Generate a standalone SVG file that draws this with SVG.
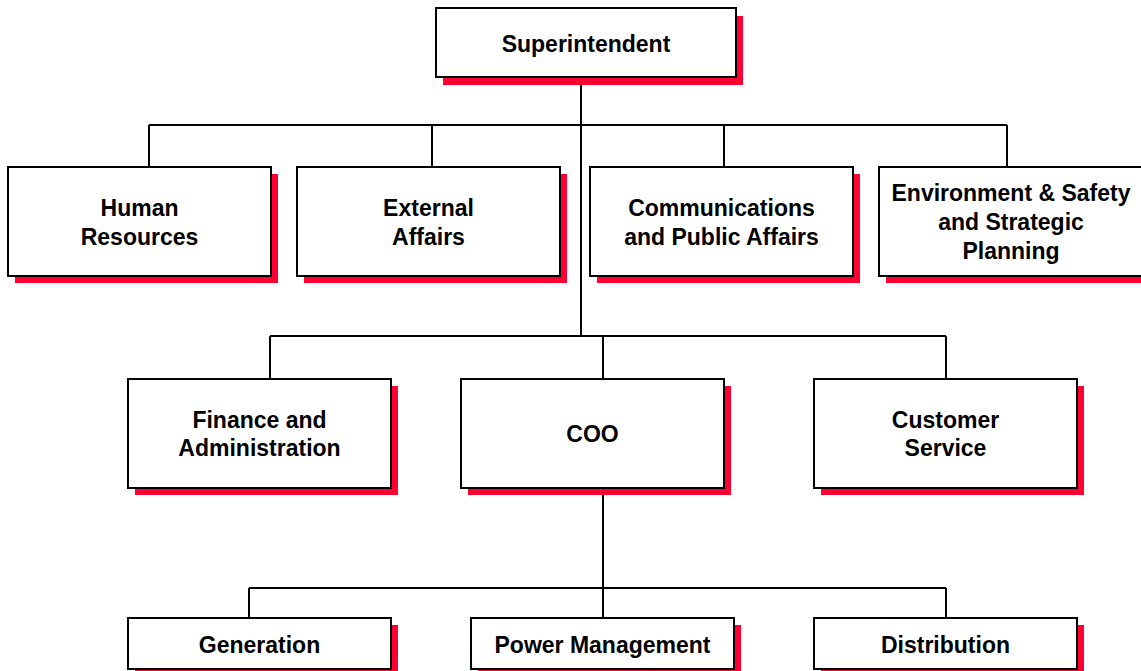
<svg xmlns="http://www.w3.org/2000/svg" width="1141" height="671" viewBox="0 0 1141 671">
<style>
.c{stroke:#000;stroke-width:2;fill:none}
.sh{fill:#ff0033}
.bx{fill:#fff;stroke:#000;stroke-width:2}
.t{font-family:"Liberation Sans",Arial,sans-serif;font-weight:bold;font-size:23px;fill:#000;text-anchor:middle}
</style>
<rect width="1141" height="671" fill="#fff"/>
<g id="connectors">
<path class="c" d="M581 77V336M149 125H1007M149 125V167M432 125V167M724 125V167M1007 125V167"/>
<path class="c" d="M270 336H946M270 336V379M603 336V379M946 336V379"/>
<path class="c" d="M603 488V618M249 588H946M249 588V618M946 588V618"/>
</g>
<g id="superintendent">
<rect class="sh" x="443" y="16" width="300" height="69"/>
<rect class="bx" x="436" y="8" width="300" height="69"/>
<text class="t" x="586" y="52">Superintendent</text>
</g>
<g id="human-resources">
<rect class="sh" x="15" y="174" width="263" height="109"/>
<rect class="bx" x="8" y="167" width="263" height="109"/>
<text class="t" x="139.5" y="216">Human</text>
<text class="t" x="139.5" y="245">Resources</text>
</g>
<g id="external-affairs">
<rect class="sh" x="304" y="174" width="263" height="109"/>
<rect class="bx" x="297" y="167" width="263" height="109"/>
<text class="t" x="428.5" y="216">External</text>
<text class="t" x="428.5" y="245">Affairs</text>
</g>
<g id="communications">
<rect class="sh" x="597" y="174" width="263" height="109"/>
<rect class="bx" x="590" y="167" width="263" height="109"/>
<text class="t" x="721.5" y="216">Communications</text>
<text class="t" x="721.5" y="245">and Public Affairs</text>
</g>
<g id="environment">
<rect class="sh" x="886" y="174" width="263" height="109"/>
<rect class="bx" x="879" y="167" width="263" height="109"/>
<text class="t" x="1011" y="201">Environment &amp; Safety</text>
<text class="t" x="1011" y="230">and Strategic</text>
<text class="t" x="1011" y="259">Planning</text>
</g>
<g id="finance">
<rect class="sh" x="135" y="386" width="263" height="109"/>
<rect class="bx" x="128" y="379" width="263" height="109"/>
<text class="t" x="259.5" y="428">Finance and</text>
<text class="t" x="259.5" y="456">Administration</text>
</g>
<g id="coo">
<rect class="sh" x="468" y="386" width="263" height="109"/>
<rect class="bx" x="461" y="379" width="263" height="109"/>
<text class="t" x="592.5" y="442">COO</text>
</g>
<g id="customer-service">
<rect class="sh" x="821" y="386" width="263" height="109"/>
<rect class="bx" x="814" y="379" width="263" height="109"/>
<text class="t" x="945.5" y="428">Customer</text>
<text class="t" x="945.5" y="456">Service</text>
</g>
<g id="generation">
<rect class="sh" x="135" y="625" width="263" height="51"/>
<rect class="bx" x="128" y="618" width="263" height="51"/>
<text class="t" x="259.5" y="653">Generation</text>
</g>
<g id="power-management">
<rect class="sh" x="478" y="625" width="263" height="51"/>
<rect class="bx" x="471" y="618" width="263" height="51"/>
<text class="t" x="602.5" y="653">Power Management</text>
</g>
<g id="distribution">
<rect class="sh" x="821" y="625" width="263" height="51"/>
<rect class="bx" x="814" y="618" width="263" height="51"/>
<text class="t" x="945.5" y="653">Distribution</text>
</g>
</svg>
